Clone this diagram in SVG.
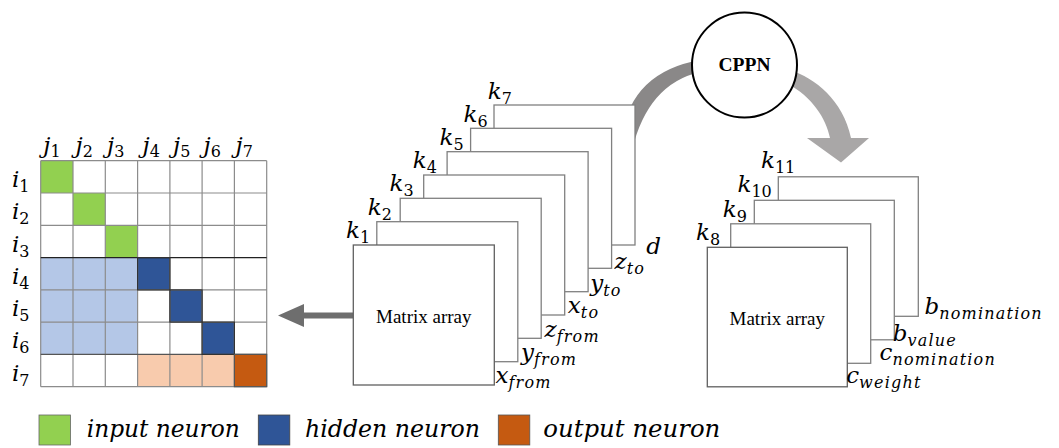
<svg xmlns="http://www.w3.org/2000/svg" width="1059" height="448" viewBox="0 0 1059 448">
<style>
.math{font-family:"DejaVu Serif",serif;font-style:italic;font-size:23px;fill:#000}
.sub{font-size:16px}
.w{letter-spacing:1.2px}
.num{font-style:normal}
.sheet{fill:#fff;stroke:#808080;stroke-width:1.3}
.front{fill:#fff;stroke:#606060;stroke-width:1.3}
.mat{font-family:"Liberation Serif",serif;font-size:19px;fill:#000;text-anchor:middle}
.leg{font-family:"DejaVu Serif",serif;font-style:italic;font-size:25px;fill:#000}
.grid{fill:none;stroke:#8c8c8c;stroke-width:1.2}
</style>
<rect width="1059" height="448" fill="#fff"/>
<g id="connectors">
<path d="M620 150 L622 135 Q632 72 700 60 L700 72 Q648 84 632 150 Z" fill="#8a8888"/>
<path d="M790 70 C815 78 843 100 851 138 L869 138 L841 162.5 L807 138 L830 138 C826 118 812 97 788 84 Z" fill="#a9a7a7"/>
<path d="M353 312.6 L304 312.6 L304 304 L278 315.5 L304 327 L304 318.4 L353 318.4 Z" fill="#6e6e6e"/>
</g>
<g id="matrix">
<rect x="40.7" y="160.7" width="226" height="226" fill="#fff"/>
<g>
<rect x="40.7" y="160.7" width="32.3" height="32.3" fill="#92d050"/>
<rect x="73" y="193" width="32.3" height="32.3" fill="#92d050"/>
<rect x="105.3" y="225.3" width="32.3" height="32.3" fill="#92d050"/>
<rect x="40.7" y="257.6" width="96.9" height="96.8" fill="#b4c7e7"/>
<rect x="137.6" y="257.6" width="32.3" height="32.3" fill="#2f5597"/>
<rect x="169.9" y="289.9" width="32.2" height="32.2" fill="#2f5597"/>
<rect x="202.1" y="322.1" width="32.3" height="32.3" fill="#2f5597"/>
<rect x="137.6" y="354.4" width="96.8" height="32.3" fill="#f8cbad"/>
<rect x="234.4" y="354.4" width="32.3" height="32.3" fill="#c55a11"/>
</g>
<path class="grid" d="M40.7 160.7V386.7M73 160.7V386.7M105.3 160.7V386.7M137.6 160.7V386.7M169.9 160.7V386.7M202.1 160.7V386.7M234.4 160.7V386.7M266.7 160.7V386.7M40.7 160.7H266.7M40.7 193H266.7M40.7 225.3H266.7M40.7 289.9H266.7M40.7 322.1H266.7M40.7 386.7H266.7"/>
<path d="M40.7 257.6H266.7" stroke="#222" stroke-width="1.3"/>
<path d="M40.7 354.4H266.7" stroke="#555" stroke-width="1.3"/>
<rect x="137.6" y="257.6" width="32.3" height="32.3" fill="none" stroke="#333" stroke-width="1.2"/>
<rect x="169.9" y="289.9" width="32.2" height="32.2" fill="none" stroke="#333" stroke-width="1.2"/>
<rect x="202.1" y="322.1" width="32.3" height="32.3" fill="none" stroke="#333" stroke-width="1.2"/>
<rect x="234.4" y="354.4" width="32.3" height="32.3" fill="none" stroke="#555" stroke-width="1.2"/>
<text class="math" x="43.3" y="153">j<tspan class="sub num" dy="4">1</tspan></text>
<text class="math" x="75.5" y="153">j<tspan class="sub num" dy="4">2</tspan></text>
<text class="math" x="107" y="153">j<tspan class="sub num" dy="4">3</tspan></text>
<text class="math" x="142.5" y="153">j<tspan class="sub num" dy="4">4</tspan></text>
<text class="math" x="173" y="153">j<tspan class="sub num" dy="4">5</tspan></text>
<text class="math" x="203.5" y="153">j<tspan class="sub num" dy="4">6</tspan></text>
<text class="math" x="235.5" y="153">j<tspan class="sub num" dy="4">7</tspan></text>
<text class="math" x="12" y="187">i<tspan class="sub num" dy="5">1</tspan></text>
<text class="math" x="12" y="219">i<tspan class="sub num" dy="5">2</tspan></text>
<text class="math" x="12" y="251.5">i<tspan class="sub num" dy="5">3</tspan></text>
<text class="math" x="12" y="283.5">i<tspan class="sub num" dy="5">4</tspan></text>
<text class="math" x="12" y="316">i<tspan class="sub num" dy="5">5</tspan></text>
<text class="math" x="12" y="348">i<tspan class="sub num" dy="5">6</tspan></text>
<text class="math" x="12" y="380.5">i<tspan class="sub num" dy="5">7</tspan></text>
</g>
<g id="stack-left">
<rect class="sheet" x="494" y="105" width="141" height="140"/>
<rect class="sheet" x="470.6" y="128.3" width="141" height="140"/>
<rect class="sheet" x="447.1" y="151.7" width="141" height="140"/>
<rect class="sheet" x="423.7" y="175" width="141" height="140"/>
<rect class="sheet" x="400.2" y="198.3" width="141" height="140"/>
<rect class="sheet" x="376.8" y="221.7" width="141" height="140"/>
<rect class="front" x="353.3" y="245" width="141" height="140"/>
<text class="mat" x="423.8" y="322.5">Matrix array</text>
<text class="math" x="346" y="238">k<tspan class="sub num" dy="5">1</tspan></text>
<text class="math" x="367.8" y="214.5">k<tspan class="sub num" dy="5">2</tspan></text>
<text class="math" x="389.5" y="191.3">k<tspan class="sub num" dy="5">3</tspan></text>
<text class="math" x="412.8" y="168">k<tspan class="sub num" dy="5">4</tspan></text>
<text class="math" x="439.5" y="145">k<tspan class="sub num" dy="5">5</tspan></text>
<text class="math" x="463.5" y="121.5">k<tspan class="sub num" dy="5">6</tspan></text>
<text class="math" x="487.8" y="98.5">k<tspan class="sub num" dy="5">7</tspan></text>
<text class="math" x="495.5" y="383">x<tspan class="sub w" dy="5">from</tspan></text>
<text class="math" x="521" y="360">y<tspan class="sub w" dy="5">from</tspan></text>
<text class="math" x="544.5" y="337">z<tspan class="sub w" dy="5">from</tspan></text>
<text class="math" x="567.8" y="312.5">x<tspan class="sub w" dy="5">to</tspan></text>
<text class="math" x="590.2" y="291">y<tspan class="sub w" dy="5">to</tspan></text>
<text class="math" x="614.5" y="269">z<tspan class="sub w" dy="5">to</tspan></text>
<text class="math" x="646.2" y="254">d</text>
</g>
<g id="stack-right">
<rect class="sheet" x="778.3" y="176.8" width="140" height="139.5"/>
<rect class="sheet" x="754.3" y="200.3" width="140" height="139.5"/>
<rect class="sheet" x="730.7" y="223.8" width="140" height="139.5"/>
<rect class="front" x="707.3" y="247.3" width="140" height="139.5"/>
<text class="mat" x="777.3" y="325">Matrix array</text>
<text class="math" x="696" y="240">k<tspan class="sub num" dy="5">8</tspan></text>
<text class="math" x="722.8" y="216.7">k<tspan class="sub num" dy="5">9</tspan></text>
<text class="math" x="737.5" y="191.7">k<tspan class="sub num" dy="5">10</tspan></text>
<text class="math" x="761" y="168.3">k<tspan class="sub num" dy="5">11</tspan></text>
<text class="math" x="846.2" y="383">c<tspan class="sub w" dy="5">weight</tspan></text>
<text class="math" x="879.5" y="360">c<tspan class="sub w" dy="5">nomination</tspan></text>
<text class="math" x="892.8" y="340.5">b<tspan class="sub w" dy="5">value</tspan></text>
<text class="math" x="924.5" y="314">b<tspan class="sub w" dy="5">nomination</tspan></text>
</g>
<g id="cppn">
<circle cx="744.5" cy="65" r="52.5" fill="#fff" stroke="#000" stroke-width="2"/>
<text x="744.5" y="70.5" font-family="Liberation Serif, serif" font-weight="bold" font-size="19.5" text-anchor="middle">CPPN</text>
</g>
<g id="legend">
<rect x="39" y="415" width="31.5" height="30" fill="#92d050" stroke="#666" stroke-width="0.8"/>
<text class="leg" x="86.7" y="437" textLength="153" lengthAdjust="spacingAndGlyphs">input neuron</text>
<rect x="258.3" y="415" width="31.5" height="30" fill="#2f5597" stroke="#444" stroke-width="0.8"/>
<text class="leg" x="305" y="437" textLength="175" lengthAdjust="spacingAndGlyphs">hidden neuron</text>
<rect x="498.3" y="415" width="31.5" height="30" fill="#c55a11" stroke="#555" stroke-width="0.8"/>
<text class="leg" x="543.3" y="437" textLength="177" lengthAdjust="spacingAndGlyphs">output neuron</text>
</g>
</svg>
